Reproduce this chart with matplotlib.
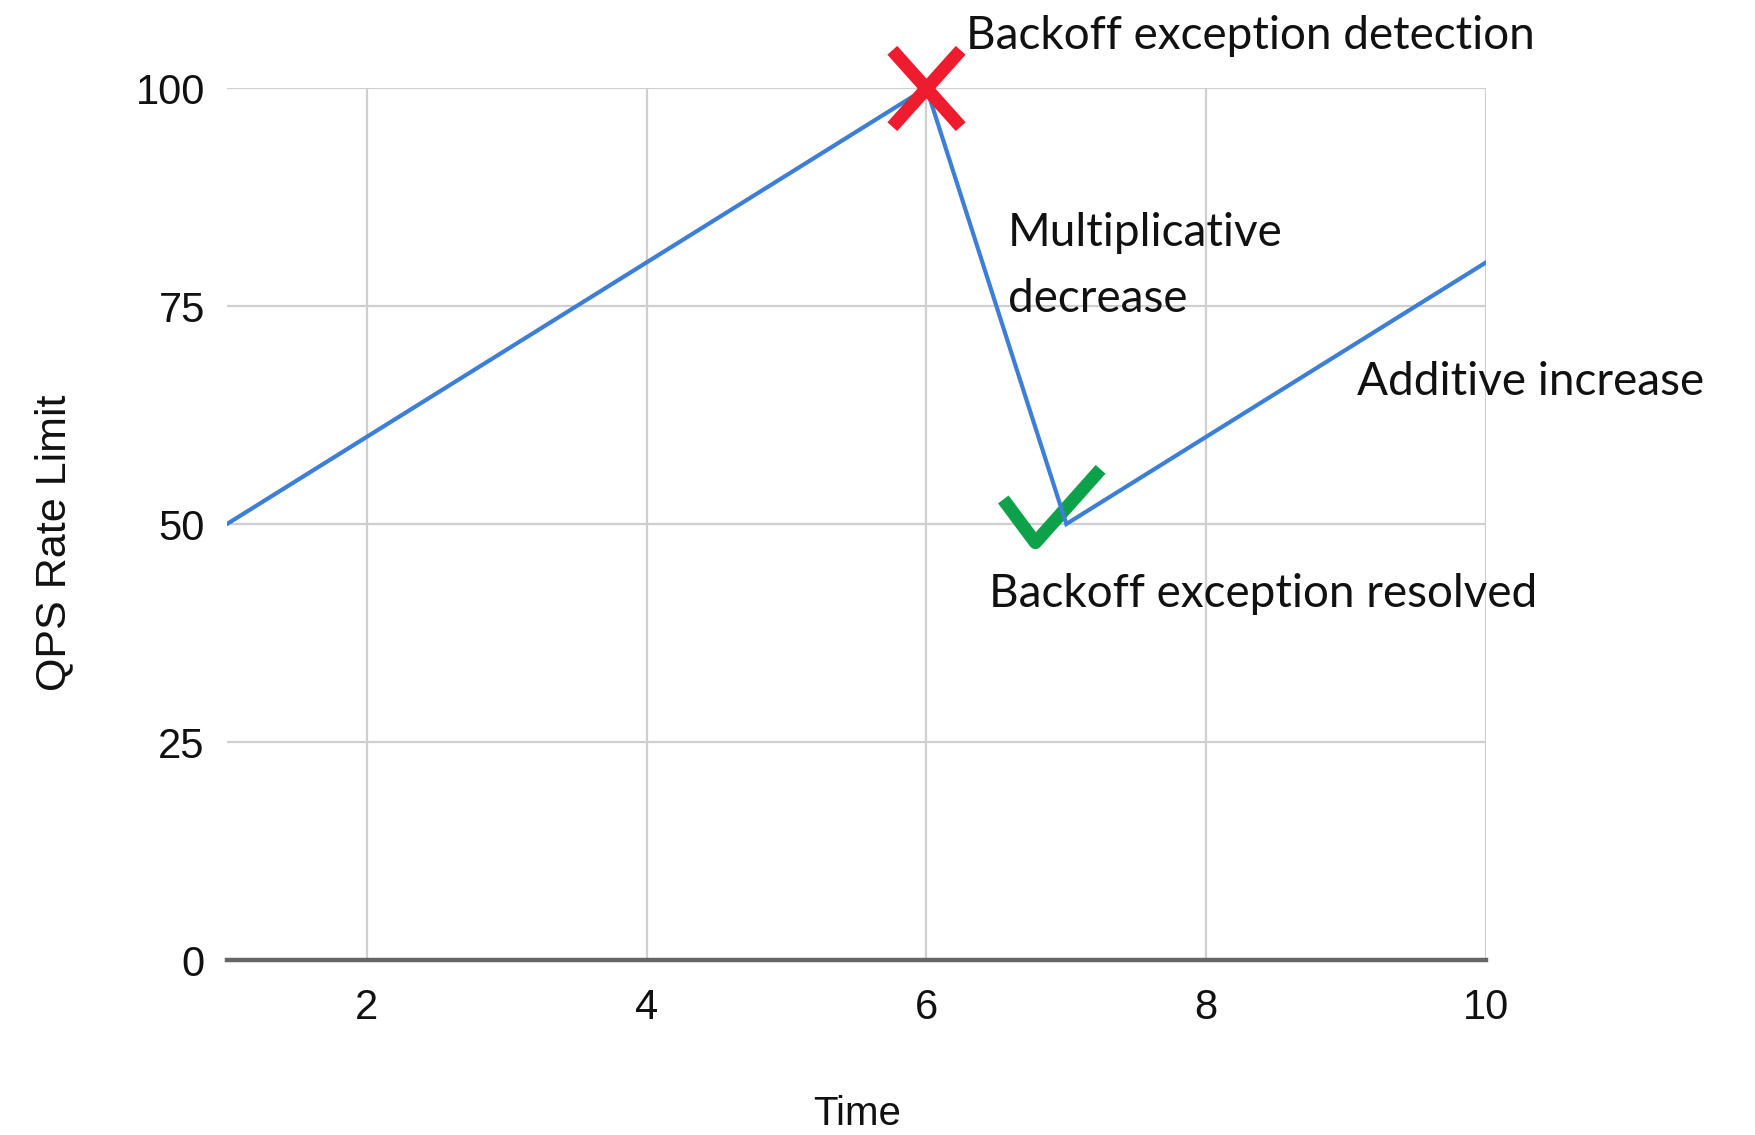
import matplotlib
matplotlib.use('Agg')
import matplotlib.pyplot as plt
from matplotlib.path import Path

# ── Data ──────────────────────────────────────────────────────────────────────
time = [1, 6, 7, 10]
qps_limit = [50, 100, 50, 80]
x_ticks = [2, 4, 6, 8, 10]
y_ticks = [0, 25, 50, 75, 100]
detect_pt = (6, 100)
resolved_pt = (7, 50)

# ── Palette ───────────────────────────────────────────────────────────────────
BLUE = '#3d7fd6'
GRID = '#cfcfcf'
AXIS = '#666666'
RED = '#ee1c2e'
GREEN = '#0da24a'
FG = '#111111'
TICK_FONT = 'Liberation Sans'
NOTE_FONT = 'Lato'

fig = plt.figure(figsize=(17.56, 11.35), dpi=100, facecolor='white')
ax = fig.add_axes([227 / 1756, 1 - 960 / 1135, (1486 - 227) / 1756, (960 - 88) / 1135])

ax.plot(time, qps_limit, color=BLUE, linewidth=3.0, zorder=4, solid_joinstyle='miter')

# red cross at the detection point (drawn over the line)
cross = Path([(-34, -38), (34, 38), (-34, 38), (34, -38)],
             [Path.MOVETO, Path.LINETO, Path.MOVETO, Path.LINETO])
ax.plot([detect_pt[0]], [detect_pt[1]], marker=cross, markersize=55,
        markerfacecolor='none', markeredgecolor=RED, markeredgewidth=9.5,
        linestyle='none', clip_on=False, zorder=5)

# green check next to the resolved point (line passes over it)
check = Path([(-63, 25), (-31, -18), (34, 55)],
             [Path.MOVETO, Path.LINETO, Path.LINETO])
ax.plot([resolved_pt[0]], [resolved_pt[1]], marker=check, markersize=91,
        markerfacecolor='none', markeredgecolor=GREEN, markeredgewidth=9.5,
        linestyle='none', clip_on=False, zorder=3)

ax.set_xlim(1, 10)
ax.set_ylim(0, 100)
ax.set_xticks(x_ticks)
ax.set_yticks(y_ticks)
ax.set_xticklabels([str(t) for t in x_ticks], fontsize=30, family=TICK_FONT, color=FG)
ax.set_yticklabels([str(t) for t in y_ticks], fontsize=30, family=TICK_FONT, color=FG)
ax.tick_params(axis='both', length=0)
ax.tick_params(axis='x', pad=20)
ax.tick_params(axis='y', pad=16)
ax.grid(True, color=GRID, linewidth=1.6)
ax.set_axisbelow(True)
for side in ('top', 'right', 'left'):
    ax.spines[side].set_visible(False)
ax.spines['bottom'].set_color(AXIS)
ax.spines['bottom'].set_linewidth(3.2)
ax.spines['bottom'].set_zorder(2)

fig.text(857 / 1756, 1 - 1114 / 1135, 'Time', ha='center', va='center',
         fontsize=29, family=TICK_FONT, color=FG)
fig.text(54 / 1756, 1 - 543 / 1135, 'QPS Rate Limit', ha='center', va='center',
         rotation=90, fontsize=31, family=TICK_FONT, color=FG)

# ── Annotations ───────────────────────────────────────────────────────────────
note_kw = dict(fontsize=33, family=NOTE_FONT, color=FG, ha='left', va='center',
               clip_on=False, zorder=6)
ax.text(6.28, 106, 'Backoff exception detection', **note_kw)
ax.text(6.58, 79.6, 'Multiplicative\ndecrease', linespacing=1.72, **note_kw)
ax.text(9.08, 66.3, 'Additive increase', **note_kw)
ax.text(6.45, 42.0, 'Backoff exception resolved', **note_kw)

fig.savefig('out.png', dpi=100, facecolor='white')
plt.close(fig)
